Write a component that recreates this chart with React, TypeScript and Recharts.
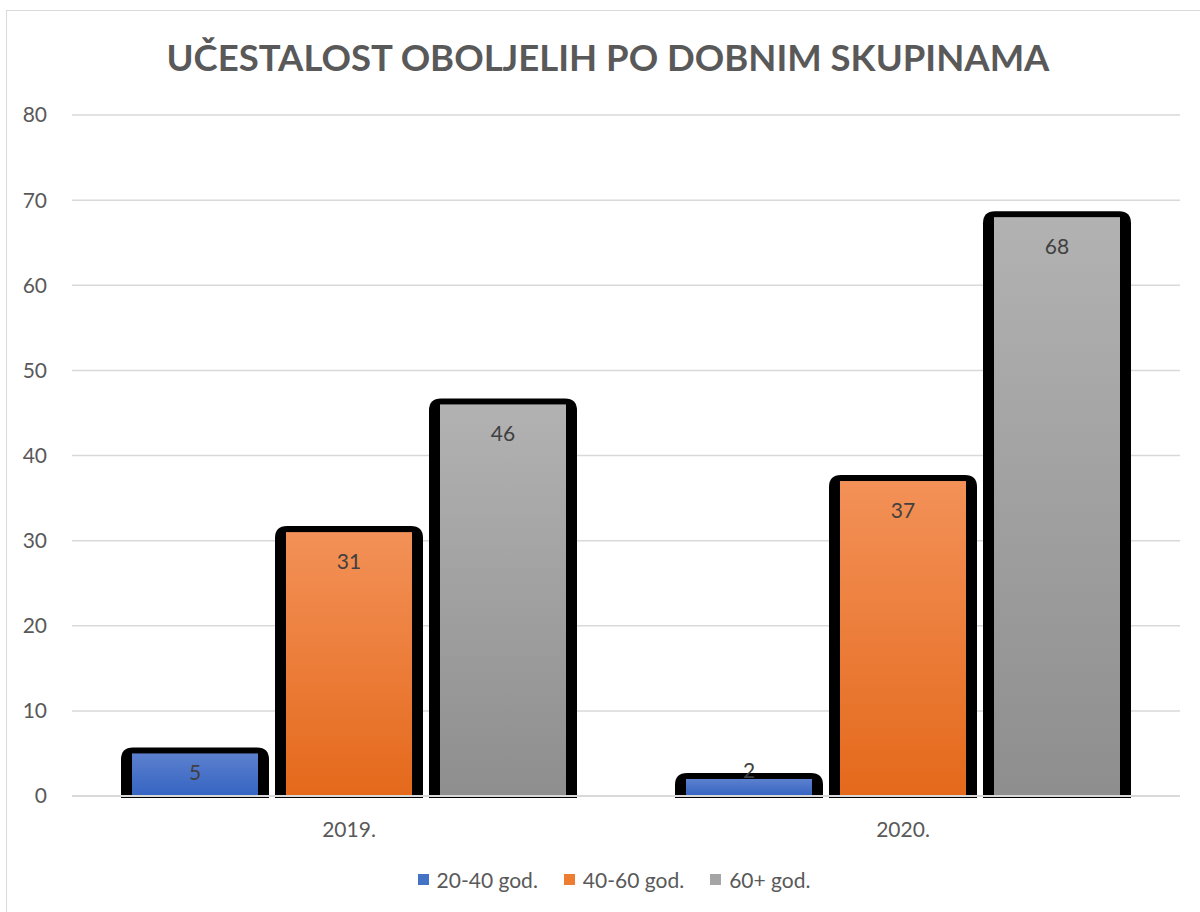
import React from "react";
import { BarChart, Bar, XAxis, YAxis, CartesianGrid, LabelList } from "recharts";

const categories = ["2019.", "2020."];
const series1 = [5, 2];
const series2 = [31, 37];
const series3 = [46, 68];
const seriesNames = ["20-40 god.", "40-60 god.", "60+ god."];
const yTicks = [0, 10, 20, 30, 40, 50, 60, 70, 80];
const title = "UČESTALOST OBOLJELIH PO DOBNIM SKUPINAMA";

const data = categories.map((c, i) => ({ name: c, a: series1[i], b: series2[i], c: series3[i] }));

const FONT = "Lato, 'Open Sans', sans-serif";

const gradients = [
  { id: "gBlue", top: "#5c80ce", bottom: "#3564c2", swatch: "#4472c4" },
  { id: "gOrange", top: "#f39158", bottom: "#e4691b", swatch: "#ed7d31" },
  { id: "gGray", top: "#b2b2b2", bottom: "#8e8e8e", swatch: "#a5a5a5" },
];

const BarShape = (props: any) => {
  const { x, y, width, height, fill } = props;
  const sw = 11;
  const st = 6;
  const r = 12;
  const ox = x - sw;
  const oy = y - st;
  const ow = width + sw * 2;
  const bottom = y + height + 2;
  const path = `M ${ox} ${bottom} L ${ox} ${oy + r} Q ${ox} ${oy} ${ox + r} ${oy} L ${ox + ow - r} ${oy} Q ${ox + ow} ${oy} ${ox + ow} ${oy + r} L ${ox + ow} ${bottom} Z`;
  return (
    <g>
      <path d={path} fill="#000" />
      <rect x={x} y={y} width={width} height={height} fill={fill} />
    </g>
  );
};

const ValueLabel = (props: any) => {
  const { x, y, width, height, value } = props;
  let cy: number;
  if (height > 60) cy = y + 28;
  else if (height > 30) cy = y + height / 2 - 3;
  else cy = y - 9;
  return (
    <text x={x + width / 2} y={cy} textAnchor="middle" dominantBaseline="central" fill="#404040" fontSize={21} fontFamily={FONT}>
      {value}
    </text>
  );
};

export default function App() {
  return (
    <div style={{ position: "absolute", left: 0, top: 0, width: 1200, height: 912, background: "#fff", overflow: "hidden" }}>
      <div style={{ position: "absolute", left: 6, top: 10, width: 1200, height: 920, border: "1px solid #d9d9d9", boxSizing: "border-box" }} />
      <div style={{ position: "absolute", left: 0, top: 35, width: 1216, textAlign: "center", fontFamily: FONT, fontWeight: 700, fontSize: 36.5, color: "#595959" }}>
        {title}
      </div>
      <div style={{ position: "absolute", left: 0, top: 0 }}>
        <BarChart width={1200} height={912} data={data} margin={{ top: 115, right: 20, left: 0, bottom: 86 }} barSize={126} barGap={28}>
          <defs>
            {gradients.map((g) => (
              <linearGradient key={g.id} id={g.id} x1="0" y1="0" x2="0" y2="1">
                <stop offset="0%" stopColor={g.top} />
                <stop offset="100%" stopColor={g.bottom} />
              </linearGradient>
            ))}
          </defs>
          <CartesianGrid vertical={false} stroke="#d9d9d9" strokeWidth={1.5} />
          <XAxis dataKey="name" height={30} axisLine={{ stroke: "#d9d9d9", strokeWidth: 2 }} tickLine={false} tickSize={0} tickMargin={26} tick={{ fill: "#595959", fontSize: 21, fontFamily: FONT }} />
          <YAxis width={72} domain={[0, 80]} ticks={yTicks} axisLine={false} tickLine={false} tickSize={0} tickMargin={25} tick={{ fill: "#595959", fontSize: 21, fontFamily: FONT }} />
          <Bar dataKey="a" name={seriesNames[0]} fill="url(#gBlue)" shape={<BarShape />} isAnimationActive={false}>
            <LabelList dataKey="a" content={<ValueLabel />} />
          </Bar>
          <Bar dataKey="b" name={seriesNames[1]} fill="url(#gOrange)" shape={<BarShape />} isAnimationActive={false}>
            <LabelList dataKey="b" content={<ValueLabel />} />
          </Bar>
          <Bar dataKey="c" name={seriesNames[2]} fill="url(#gGray)" shape={<BarShape />} isAnimationActive={false}>
            <LabelList dataKey="c" content={<ValueLabel />} />
          </Bar>
        </BarChart>
      </div>
      <div style={{ position: "absolute", left: 0, top: 867, width: 1228, display: "flex", justifyContent: "center", alignItems: "center", fontFamily: FONT, fontSize: 21, color: "#595959" }}>
        {seriesNames.map((n, i) => (
          <div key={n} style={{ display: "flex", alignItems: "center", marginRight: i < 2 ? 26 : 0 }}>
            <div style={{ width: 11, height: 11, background: gradients[i].swatch, marginRight: 8 }} />
            <span>{n}</span>
          </div>
        ))}
      </div>
    </div>
  );
}
